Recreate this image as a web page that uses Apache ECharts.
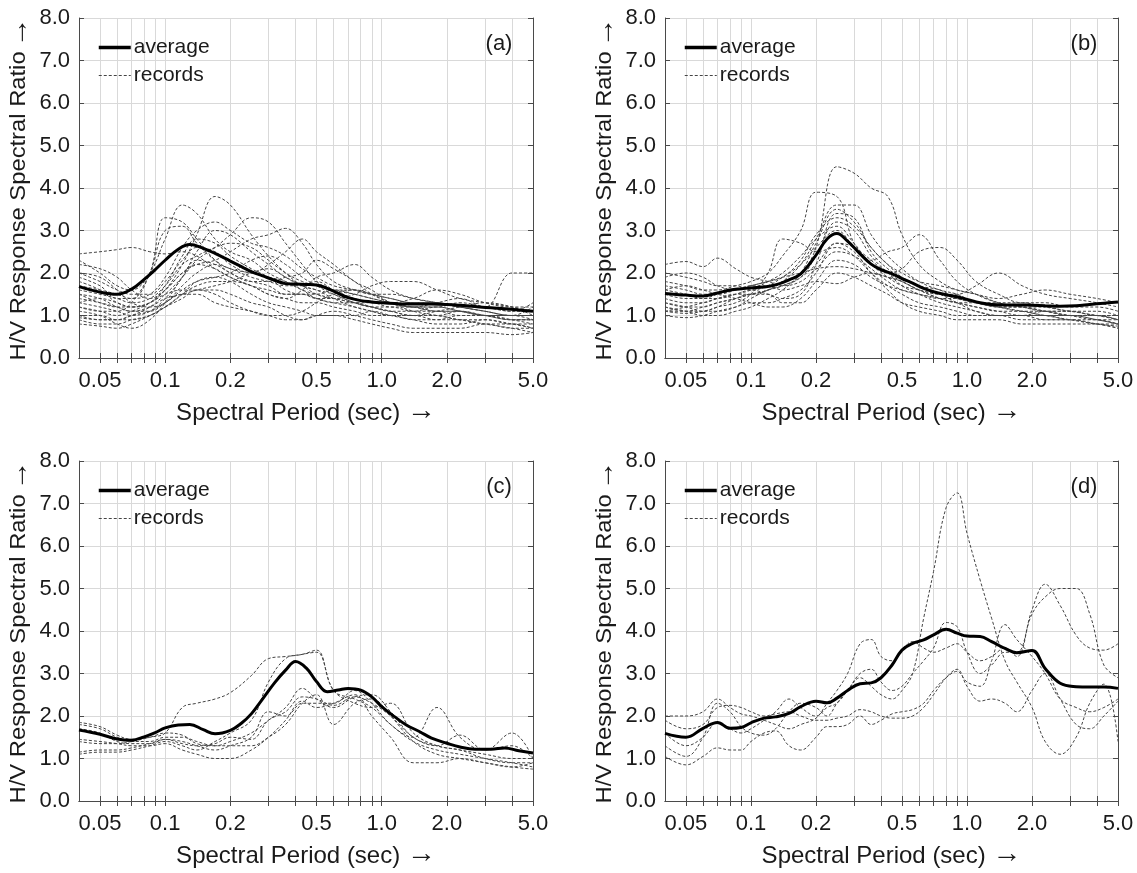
<!DOCTYPE html>
<html>
<head>
<meta charset="utf-8">
<script src="https://cdn.jsdelivr.net/npm/echarts@6/dist/echarts.min.js"></script>
<style>
html,body{margin:0;padding:0;background:#fff}
#chart{width:1137px;height:873px}
</style>
</head>
<body>
<div id="chart"></div>
<script>
// ---------------- DATA ----------------
const xLabelValues = [0.05, 0.1, 0.2, 0.5, 1, 2, 5];
const xGridValues = [0.05,0.06,0.07,0.08,0.09,0.1,0.2,0.3,0.4,0.5,0.6,0.7,0.8,0.9,1,2,3,4,5];

const avgPeriods = [0.04,0.05,0.06,0.07,0.08, 0.09,0.1,0.115,0.13,0.15, 0.17,0.2,0.225,0.25,0.28, 0.32,0.36,0.4,0.45,0.5, 0.56,0.63,0.7,0.8,0.9, 1.0,1.15,1.3,1.5,1.7, 2.0,2.3,2.7,3.2,3.7, 4.3,5.0];
const recPeriods = [0.04,0.05,0.06,0.07,0.085, 0.1,0.12,0.14,0.17,0.2, 0.25,0.3,0.36,0.43,0.5, 0.6,0.75,0.9,1.1,1.4, 1.8,2.3,3.0,4.0,5.0];

const avgA = [1.68,1.55,1.50,1.62,1.85, 2.08,2.30,2.56,2.67,2.58, 2.46,2.28,2.15,2.03,1.94, 1.83,1.75,1.74,1.73,1.72, 1.64,1.52,1.42,1.35,1.32, 1.30,1.28,1.27,1.27,1.27, 1.26,1.24,1.21,1.18,1.16, 1.13,1.10];
const avgB = [1.52,1.48,1.46,1.53,1.60, 1.63,1.65,1.67,1.72,1.84, 1.98,2.42,2.80,2.93,2.75, 2.45,2.21,2.08,1.98,1.87, 1.76,1.64,1.56,1.49,1.44, 1.38,1.30,1.26,1.25,1.25, 1.24,1.23,1.22,1.23,1.26, 1.29,1.32];
const avgC = [1.67,1.57,1.46,1.43,1.51, 1.61,1.72,1.79,1.80,1.68, 1.58,1.66,1.83,2.05,2.38, 2.78,3.08,3.28,3.12,2.81, 2.57,2.61,2.65,2.61,2.45, 2.22,1.98,1.79,1.63,1.48, 1.36,1.27,1.22,1.22,1.25, 1.18,1.13];
const avgD = [1.59,1.50,1.71,1.85,1.71, 1.73,1.84,1.95,1.98,2.06, 2.22,2.35,2.31,2.42,2.60, 2.76,2.78,2.90,3.20,3.55, 3.71,3.79,3.91,4.04,3.95, 3.88,3.87,3.75,3.59,3.49, 3.54,3.12,2.77,2.69,2.68, 2.68,2.65];

const recordsA = [
 [1.2,1.1,1.0,1.1,1.3, 1.6,2.2,2.9,3.8,3.6, 2.9,2.4,2.0,1.7,1.6, 1.4,1.2,1.1,1.0,1.0, 0.9,0.9,0.8,0.8,0.7],
 [2.3,2.0,1.7,1.6,2.0, 2.8,3.6,3.4,2.8,2.5, 2.3,2.0,1.8,1.6,1.5, 1.4,1.3,1.2,1.2,1.1, 1.2,1.1,1.0,0.9,0.9],
 [1.9,1.7,1.4,1.4,2.0, 3.3,3.2,2.8,2.3,2.0, 1.8,1.7,1.5,1.5,1.4, 1.3,1.3,1.2,1.1,1.0, 1.0,1.1,1.0,1.0,1.0],
 [1.0,0.9,0.9,1.0,1.2, 1.5,1.9,2.3,2.6,2.9, 3.3,3.2,2.7,2.2,1.8, 1.6,1.5,1.4,1.3,1.2, 1.2,1.1,1.0,1.0,0.9],
 [1.5,1.3,1.2,1.2,1.3, 1.6,2.0,2.2,2.3,2.5, 2.8,2.9,3.05,2.7,2.2, 1.8,1.6,1.5,1.4,1.3, 1.3,1.2,1.1,1.0,1.0],
 [2.0,1.8,1.6,1.5,1.5, 1.8,2.3,2.6,2.5,2.2, 2.0,2.2,2.5,2.8,2.5, 2.2,1.8,1.6,1.3,1.2, 1.1,1.1,1.0,0.9,0.9],
 [2.45,2.5,2.55,2.6,2.5, 2.45,2.5,2.4,2.1,1.9, 1.7,1.6,1.5,1.5,1.4, 1.4,1.3,1.3,1.2,1.2, 1.1,1.1,1.0,1.0,1.0],
 [0.9,0.8,0.8,0.9,1.0, 1.2,1.4,1.6,1.6,1.5, 1.3,1.2,1.0,0.9,1.0, 1.1,1.0,0.9,0.8,0.7, 0.7,0.7,0.8,0.7,0.7],
 [1.1,1.0,0.8,0.7,0.9, 1.3,1.9,2.3,2.2,2.0, 1.8,1.8,1.9,2.0,2.3, 2.1,1.8,1.5,1.3,1.1, 1.0,0.9,0.8,0.7,0.6],
 [1.8,1.6,1.3,1.2,1.3, 1.5,1.6,1.6,1.5,1.3, 1.1,1.0,1.0,1.1,1.3, 1.5,1.6,1.5,1.3,1.2, 1.3,1.4,1.2,2.0,2.0],
 [1.3,1.2,1.1,1.0,1.1, 1.4,1.9,2.5,3.0,2.9, 2.5,2.2,1.9,1.7,1.6, 1.5,1.3,1.2,1.1,1.0, 1.0,0.9,0.9,0.8,0.8],
 [1.6,1.5,1.4,1.3,1.4, 1.7,2.2,2.4,2.6,2.7, 2.6,2.3,2.0,1.8,1.7, 1.6,1.6,1.5,1.4,1.3, 1.3,1.2,1.2,1.1,1.1],
 [1.0,1.0,0.9,0.9,1.0, 1.2,1.5,1.7,1.8,1.8, 1.7,1.5,1.4,1.3,1.3, 1.2,1.1,1.0,1.0,0.9, 0.9,1.0,1.0,0.9,0.8],
 [2.2,2.1,1.9,1.6,1.4, 1.6,2.0,2.2,2.1,1.9, 1.7,1.5,1.4,1.6,1.9, 2.0,2.2,1.9,1.6,1.4, 1.3,1.2,1.1,1.0,1.2],
 [1.4,1.3,1.2,1.1,1.2, 1.4,1.5,1.6,1.7,1.8, 2.0,2.1,1.9,1.7,1.5, 1.4,1.5,1.7,1.8,1.8, 1.6,1.4,1.3,1.2,1.1],
 [0.95,0.9,0.9,1.0,1.1, 1.3,1.5,1.5,1.3,1.2, 1.1,1.0,0.9,0.9,1.0, 1.0,0.9,0.8,0.7,0.6, 0.6,0.6,0.6,0.55,0.6],
 [1.7,1.6,1.5,1.4,1.5, 1.9,2.6,3.0,3.2,3.0, 2.7,2.6,2.4,2.1,1.9, 1.7,1.6,1.5,1.5,1.4, 1.3,1.2,1.1,1.0,1.0],
 [1.2,1.1,1.1,1.3,2.0, 3.0,3.1,2.7,2.3,2.1, 2.0,1.9,1.8,1.6,1.4, 1.3,1.2,1.1,1.0,1.0, 1.1,1.2,1.3,1.2,1.0],
 [2.0,1.9,1.6,1.3,1.2, 1.3,1.7,2.0,2.2,2.1, 1.9,1.8,1.7,1.7,1.8, 1.6,1.4,1.3,1.3,1.4, 1.6,1.5,1.3,1.2,1.2],
 [0.8,0.75,0.7,0.8,1.0, 1.2,1.5,1.8,1.9,1.8, 1.5,1.3,1.2,1.1,1.0, 1.0,1.0,1.1,1.0,0.9, 0.8,0.8,0.9,0.8,0.7],
 [1.3,1.4,1.3,1.2,1.3, 1.7,2.4,2.8,2.7,2.4, 2.1,1.9,1.6,1.5,1.5, 1.6,1.5,1.4,1.3,1.2, 1.2,1.3,1.2,1.1,1.3],
 [1.5,1.4,1.2,1.1,1.1, 1.3,1.6,1.8,1.9,2.0, 2.3,2.4,2.2,1.9,1.7, 1.5,1.3,1.2,1.1,1.1, 1.1,1.0,1.0,0.9,0.9]
];

const recordsB = [
 [1.1,1.1,1.2,1.3,1.4, 1.5,1.6,1.8,2.0,2.6, 4.5,4.35,4.0,3.8,2.9, 2.2,1.8,1.6,1.5,1.3, 1.2,1.1,1.0,0.9,0.9],
 [1.8,1.7,1.6,1.6,1.7, 1.8,2.0,2.4,3.0,3.9, 3.8,2.7,2.3,2.0,1.8, 1.6,1.4,1.3,1.2,1.1, 1.1,1.0,1.0,0.9,0.8],
 [1.3,1.2,1.2,1.3,1.4, 1.5,1.6,1.8,2.2,2.8, 3.6,3.6,2.9,2.4,2.1, 1.8,1.6,1.5,1.3,1.2, 1.1,1.1,1.0,1.0,0.9],
 [1.2,1.1,1.1,1.2,1.3, 1.5,2.0,2.8,2.7,2.5, 2.6,2.4,2.0,1.7,1.5, 1.3,1.2,1.1,1.0,1.0, 1.0,1.1,1.1,1.0,1.0],
 [1.6,1.5,1.4,1.4,1.5, 1.6,1.8,2.0,2.4,2.8, 3.1,2.7,2.3,2.5,2.6, 2.9,2.3,1.8,1.5,1.3, 1.2,1.1,1.1,1.0,1.0],
 [2.0,1.9,1.8,1.7,1.7, 1.6,1.7,1.9,2.2,2.6, 3.0,2.6,2.2,2.0,2.1, 2.5,2.6,2.3,1.8,1.5, 1.3,1.3,1.2,1.2,1.1],
 [1.4,1.3,1.3,1.4,1.5, 1.5,1.6,1.7,1.9,2.2, 2.7,2.6,2.2,1.9,1.7, 1.6,1.5,1.5,1.7,2.0, 1.7,1.5,1.4,1.3,1.2],
 [2.2,2.27,2.15,2.35,2.1, 1.9,1.8,1.7,1.8,2.1, 2.5,2.4,2.1,1.8,1.6, 1.5,1.4,1.3,1.3,1.2, 1.2,1.1,1.0,1.0,0.9],
 [1.7,1.6,1.5,1.5,1.6, 1.7,1.8,1.9,2.0,2.1, 2.15,2.1,2.0,1.9,1.8, 1.6,1.4,1.3,1.2,1.1, 1.0,1.0,0.9,0.9,0.8],
 [1.0,0.95,1.0,1.1,1.2, 1.3,1.3,1.4,1.6,2.0, 2.7,2.5,2.0,1.6,1.3, 1.1,1.0,0.9,0.9,0.9, 0.8,0.8,0.8,0.8,0.7],
 [1.1,1.05,1.1,1.2,1.4, 1.5,1.5,1.3,1.3,1.6, 2.0,1.9,1.7,1.5,1.3, 1.2,1.1,1.0,1.0,1.0, 0.9,0.9,0.9,0.8,0.7],
 [1.9,2.0,1.9,1.7,1.6, 1.7,1.8,1.9,2.3,2.9, 3.3,3.1,2.6,2.2,2.0, 1.8,1.7,1.6,1.5,1.4, 1.5,1.6,1.5,1.4,1.3],
 [1.3,1.2,1.1,1.1,1.2, 1.4,1.6,1.7,1.9,2.4, 3.2,3.0,2.4,2.0,1.7, 1.5,1.3,1.2,1.1,1.0, 1.0,0.9,0.9,0.8,0.8],
 [1.5,1.4,1.4,1.5,1.6, 1.7,1.7,1.6,1.7,1.8, 1.75,1.9,2.0,1.9,1.8, 1.6,1.5,1.4,1.3,1.2, 1.2,1.2,1.1,1.1,1.0],
 [1.1,1.2,1.3,1.4,1.5, 1.6,1.5,1.4,1.5,2.2, 3.4,3.3,2.5,2.1,1.9, 1.7,1.5,1.3,1.1,1.0, 1.0,1.0,1.0,0.9,0.8],
 [1.6,1.7,1.6,1.5,1.4, 1.3,1.2,1.2,1.4,1.8, 2.3,2.2,1.9,1.7,1.6, 1.5,1.4,1.4,1.3,1.3, 1.3,1.2,1.1,1.0,0.9],
 [1.2,1.1,1.0,1.0,1.1, 1.2,1.4,1.6,2.0,2.7, 3.5,3.2,2.6,2.2,1.9, 1.7,1.6,1.4,1.3,1.2, 1.1,1.0,0.9,0.8,0.75]
];

const recordsC = [
 [1.4,1.35,1.35,1.4,1.5, 1.6,2.2,2.3,2.4,2.55, 2.95,3.35,3.4,3.45,3.55, 2.6,2.4,2.2,1.8,1.4, 1.2,1.1,1.0,0.9,0.8],
 [1.1,1.15,1.15,1.2,1.3, 1.4,1.3,1.2,1.4,1.6, 1.9,2.8,3.35,3.45,3.5, 2.6,2.3,2.2,2.3,1.6, 1.3,1.2,1.0,0.9,0.9],
 [1.8,1.7,1.5,1.4,1.4, 1.5,1.5,1.4,1.3,1.4, 1.6,1.9,2.2,2.65,2.4, 2.2,2.45,2.5,2.1,1.5, 1.3,1.2,1.1,1.0,1.0],
 [1.85,1.75,1.55,1.45,1.5, 1.6,1.55,1.35,1.3,1.3, 1.3,1.5,1.8,2.3,2.5, 1.8,2.3,2.4,2.0,1.4, 1.1,1.0,0.9,0.8,0.75],
 [1.45,1.4,1.35,1.3,1.3, 1.35,1.2,1.1,1.0,1.0, 1.2,1.5,1.9,2.35,2.2, 2.3,2.5,2.0,1.5,0.9, 0.9,1.0,0.9,0.8,0.9],
 [1.15,1.2,1.2,1.25,1.35, 1.45,1.4,1.3,1.2,1.3, 1.5,2.1,2.0,2.3,2.3, 2.3,2.6,2.3,1.8,1.5, 2.2,1.5,1.2,1.3,1.0],
 [1.7,1.6,1.4,1.35,1.35, 1.45,1.35,1.3,1.35,1.5, 1.45,1.9,2.1,2.45,2.4, 2.25,2.45,2.3,2.0,1.5, 1.3,1.55,1.2,1.6,1.0]
];

const recordsD = [
 [1.3,1.05,1.5,2.3,2.1, 1.75,1.6,1.55,1.7,2.1, 2.3,2.2,2.0,2.3,2.6, 2.9,2.7,2.5,2.4,2.6, 3.0,4.3,5.4,6.9,7.25, 6.3,5.2,4.3,3.3,2.8, 2.2,1.4,1.1,1.5,2.3, 2.75,1.4],
 [2.0,2.0,2.1,2.4,2.2, 2.05,2.0,1.9,1.8,1.7, 1.8,1.95,2.3,2.6,3.0, 3.7,3.8,3.4,3.3,3.55, 3.75,3.6,3.5,3.6,3.7, 3.5,3.3,3.4,3.6,3.4, 4.5,5.1,4.6,3.9,3.6, 3.55,3.7],
 [1.6,1.3,1.5,1.85,1.7, 1.6,1.7,1.9,2.1,2.4, 2.2,2.0,2.2,2.3,2.6, 3.0,3.1,2.8,2.6,2.7, 3.0,3.3,3.6,4.2,4.1, 3.5,3.0,3.2,3.5,3.5, 4.4,4.8,5.0,5.0,4.4, 3.2,2.9],
 [1.05,0.85,1.05,1.25,1.2, 1.2,1.4,1.6,1.65,1.3, 1.2,1.5,1.75,1.75,1.8, 2.0,1.8,1.9,2.05,2.1, 2.15,2.3,2.6,2.9,3.05, 2.8,2.7,3.3,4.15,3.8, 3.4,3.0,2.4,2.2,2.1, 2.2,2.4],
 [1.9,1.7,1.8,2.2,2.25, 2.2,2.1,2.0,2.05,2.1, 2.0,1.9,1.9,1.95,2.0, 2.15,2.1,2.0,1.95,1.95, 2.0,2.2,2.5,2.9,3.1, 2.7,2.35,2.4,2.3,2.1, 2.6,3.0,2.4,1.8,1.7, 2.0,2.35]
];

const panelTags = ['(a)', '(b)', '(c)', '(d)'];
const xTitleText = 'Spectral Period (sec)';
const yTitleText = 'H/V Response Spectral Ratio';
const arrow = '\u2192';

// ---------------- LAYOUT / STYLE ----------------
const X_MIN = 0.04, X_MAX = 5;
const FONT = '"Liberation Sans", Arial, sans-serif';
const AX = '#4a4a4a', GRID = '#d9d9d9', TXT = '#1a1a1a';
const grids = [
  {left: 79,  top: 18,  width: 454, height: 340},
  {left: 665, top: 18,  width: 453, height: 340},
  {left: 79,  top: 461, width: 454, height: 340},
  {left: 665, top: 461, width: 453, height: 340}
];
const panelAvg = [avgA, avgB, avgC, avgD];
const panelRec = [recordsA, recordsB, recordsC, recordsD];
const panelRecPeriods = [recPeriods, recPeriods, recPeriods, avgPeriods];

function fmtPeriod(v) {
  const r = Number(Number(v).toPrecision(3));
  return r >= 1 ? r.toFixed(1) : String(r);
}
function pairs(periods, vals) {
  const out = [];
  for (let k = 0; k < vals.length && k < periods.length; k++) out.push([periods[k], vals[k]]);
  return out;
}

const xAxes = [], yAxes = [], series = [], legends = [], graphics = [];
grids.forEach((g, i) => {
  const xCommon = {
    gridIndex: i, type: 'log', logBase: 10, min: X_MIN, max: X_MAX,
    axisLine: {show: true, lineStyle: {color: AX, width: 1}},
    axisTick: {show: true, inside: true, length: 5, customValues: xGridValues, lineStyle: {color: AX}}
  };
  xAxes.push(Object.assign({}, xCommon, {
    position: 'bottom',
    axisLabel: {show: true, customValues: xLabelValues, formatter: fmtPeriod,
      fontSize: 22, fontFamily: FONT, color: TXT, margin: 12},
    splitLine: {show: true, lineStyle: {color: GRID, width: 1}},
    name: '{t|' + xTitleText + '} {a|' + arrow + '}', nameLocation: 'middle', nameGap: 38,
    nameTextStyle: {
      fontSize: 24, fontFamily: FONT, color: TXT,
      rich: {
        t: {fontSize: 24, fontFamily: FONT, color: TXT},
        a: {fontSize: 29, fontFamily: FONT, color: TXT, padding: [0, 0, 6, 0]}
      }
    }
  }));
  xAxes.push(Object.assign({}, xCommon, {
    position: 'top', axisLabel: {show: false}, splitLine: {show: false}
  }));
  const yCommon = {
    gridIndex: i, type: 'value', min: 0, max: 8, interval: 1,
    axisLine: {show: true, lineStyle: {color: AX, width: 1}},
    axisTick: {show: true, inside: true, length: 5, lineStyle: {color: AX}}
  };
  yAxes.push(Object.assign({}, yCommon, {
    position: 'left',
    axisLabel: {show: true, formatter: v => v.toFixed(1), fontSize: 22, fontFamily: FONT, color: TXT, margin: 9},
    splitLine: {show: true, lineStyle: {color: GRID, width: 1}}
  }));
  yAxes.push(Object.assign({}, yCommon, {
    position: 'right', axisLabel: {show: false}, splitLine: {show: false}
  }));

  panelRec[i].forEach(r => {
    series.push({
      type: 'line', name: 'records', xAxisIndex: 2 * i, yAxisIndex: 2 * i,
      data: pairs(panelRecPeriods[i], r), smooth: 0.4, symbol: 'none', silent: true,
      color: '#444', itemStyle: {color: '#444'},
      lineStyle: {color: '#444', width: 1, type: [3, 2]}, z: 2
    });
  });
  series.push({
    type: 'line', name: 'average', xAxisIndex: 2 * i, yAxisIndex: 2 * i,
    data: pairs(avgPeriods, panelAvg[i]), smooth: 0.4, symbol: 'none', silent: true,
    color: '#000', itemStyle: {color: '#000'},
    lineStyle: {color: '#000', width: 3}, z: 3
  });

  legends.push({
    data: [
      {name: 'average', lineStyle: {width: 3.5, color: '#000'}},
      {name: 'records', lineStyle: {width: 1, color: '#444', type: [3, 2]}}
    ],
    orient: 'vertical',
    left: g.left + 18, top: g.top + 19, itemWidth: 32, itemHeight: 12, itemGap: 7,
    selectedMode: false, padding: 0,
    itemStyle: {opacity: 0},
    textStyle: {fontSize: 21, fontFamily: FONT, color: TXT, lineHeight: 21, padding: [0, 0, 0, -2]}
  });

  graphics.push({
    type: 'text', x: g.left + g.width - 34, y: g.top + 26, silent: true,
    style: {text: panelTags[i], font: '22px ' + FONT, fill: TXT, align: 'center', verticalAlign: 'middle'}
  });
  graphics.push({
    type: 'text', x: g.left - 60, y: g.top + 171, rotation: Math.PI / 2, scaleX: 1.08, silent: true,
    style: {
      text: '{t|' + yTitleText + '} {a|' + arrow + '}',
      align: 'center', verticalAlign: 'middle', fill: TXT,
      rich: {
        t: {fontSize: 22, fontFamily: FONT, fill: TXT},
        a: {fontSize: 28, fontFamily: FONT, fill: TXT}
      }
    }
  });
});

const chart = echarts.init(document.getElementById('chart'), null, {renderer: 'canvas'});
chart.setOption({
  animation: false,
  backgroundColor: '#fff',
  grid: grids.map(g => Object.assign({containLabel: false}, g)),
  xAxis: xAxes,
  yAxis: yAxes,
  legend: legends,
  series: series,
  graphic: graphics
});
</script>
</body>
</html>
